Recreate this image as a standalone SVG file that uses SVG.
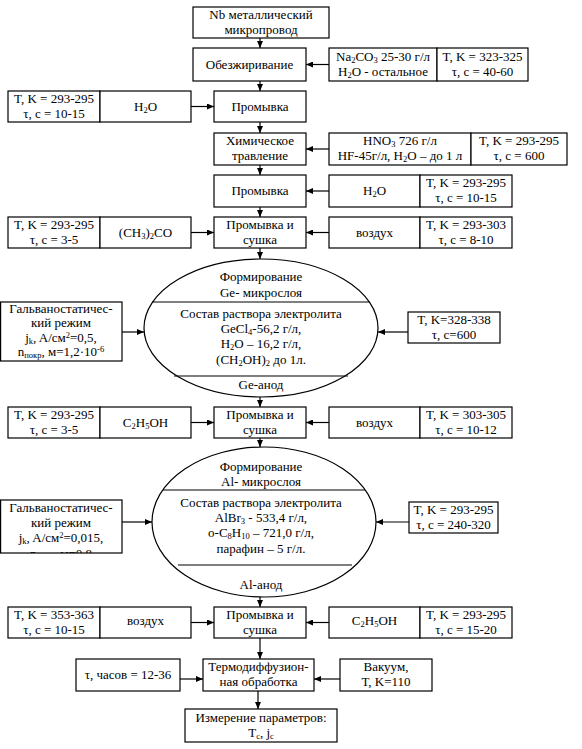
<svg xmlns="http://www.w3.org/2000/svg" width="582" height="749" viewBox="0 0 582 749">
<style>
.b{fill:#fff;stroke:#000;stroke-width:1.2}
.t{font-family:"Liberation Serif","Times New Roman",serif;font-size:13px;fill:#000;text-anchor:middle}
.s{font-size:8.5px}
.c{stroke:#000;stroke-width:1.2;fill:none;marker-end:url(#a)}
.l{stroke:#000;stroke-width:1.2}
</style>
<defs>
<marker id="a" markerWidth="7" markerHeight="6" refX="7" refY="3" orient="auto" markerUnits="userSpaceOnUse"><path d="M0,0 L7,3 L0,6 z" fill="#000"/></marker>
<clipPath id="g2clip"><rect x="0" y="500" width="122" height="53"/></clipPath>
</defs>
<rect width="582" height="749" fill="#fff"/>

<g id="connectors">
<line class="c" x1="260" y1="38" x2="260" y2="48"/>
<line class="c" x1="329" y1="64.5" x2="306" y2="64.5"/>
<line class="c" x1="260" y1="81" x2="260" y2="91"/>
<line class="c" x1="191" y1="106.5" x2="214" y2="106.5"/>
<line class="c" x1="260" y1="122" x2="260" y2="133"/>
<line class="c" x1="329" y1="149" x2="306" y2="149"/>
<line class="c" x1="260" y1="165" x2="260" y2="175"/>
<line class="c" x1="329" y1="191" x2="306" y2="191"/>
<line class="c" x1="260" y1="207" x2="260" y2="217"/>
<line class="c" x1="191" y1="232.5" x2="214" y2="232.5"/>
<line class="c" x1="329" y1="232.5" x2="306" y2="232.5"/>
<line class="c" x1="260" y1="248" x2="260" y2="259"/>
<line class="c" x1="122" y1="332" x2="144" y2="332"/>
<line class="c" x1="408" y1="332" x2="378" y2="332"/>
<line class="c" x1="260" y1="397" x2="260" y2="407"/>
<line class="c" x1="191" y1="422.5" x2="214" y2="422.5"/>
<line class="c" x1="329" y1="422.5" x2="306" y2="422.5"/>
<line class="c" x1="260" y1="438" x2="260" y2="447"/>
<line class="c" x1="122" y1="522" x2="152" y2="522"/>
<line class="c" x1="409" y1="522" x2="376" y2="522"/>
<line class="c" x1="260" y1="597" x2="260" y2="607"/>
<line class="c" x1="191" y1="622.5" x2="214" y2="622.5"/>
<line class="c" x1="329" y1="622.5" x2="306" y2="622.5"/>
<line class="c" x1="260" y1="638" x2="260" y2="659"/>
<line class="c" x1="180" y1="679" x2="203" y2="679"/>
<line class="c" x1="340" y1="679" x2="314" y2="679"/>
<line class="c" x1="258" y1="691" x2="258" y2="709"/>
</g>

<g id="nb">
<rect class="b" x="193" y="7" width="136" height="31"/>
<text class="t" x="261" y="19">Nb металлический</text>
<text class="t" x="261" y="34">микропровод</text>
</g>

<g id="obez">
<rect class="b" x="193" y="48" width="113" height="33"/>
<text class="t" x="249.5" y="69">Обезжиривание</text>
</g>

<g id="obez-sol">
<rect class="b" x="329" y="48" width="108" height="33"/>
<rect class="b" x="437" y="48" width="91" height="33"/>
<text class="t" x="383" y="61">Na<tspan class="s" dy="2">2</tspan><tspan dy="-2">CO</tspan><tspan class="s" dy="2">3</tspan><tspan dy="-2"> 25-30 г/л</tspan></text>
<text class="t" x="383" y="76">H<tspan class="s" dy="2">2</tspan><tspan dy="-2">O - остальное</tspan></text>
<text class="t" x="482.5" y="61">T, K = 323-325</text>
<text class="t" x="482.5" y="76">τ, с = 40-60</text>
</g>

<g id="prom1">
<rect class="b" x="214" y="91" width="92" height="31"/>
<text class="t" x="260" y="111">Промывка</text>
</g>

<g id="prom1-cond">
<rect class="b" x="8" y="91" width="92" height="31"/>
<rect class="b" x="100" y="91" width="91" height="31"/>
<text class="t" x="54" y="103">T, K = 293-295</text>
<text class="t" x="54" y="118">τ, с = 10-15</text>
<text class="t" x="145.5" y="111">H<tspan class="s" dy="2">2</tspan><tspan dy="-2">O</tspan></text>
</g>

<g id="trav">
<rect class="b" x="214" y="133" width="92" height="32"/>
<text class="t" x="260" y="145">Химическое</text>
<text class="t" x="260" y="160">травление</text>
</g>

<g id="trav-sol">
<rect class="b" x="329" y="133" width="142" height="32"/>
<rect class="b" x="471" y="133" width="96" height="32"/>
<text class="t" x="400" y="145">HNO<tspan class="s" dy="2">3</tspan><tspan dy="-2"> 726 г/л</tspan></text>
<text class="t" x="400" y="160">HF-45г/л, H<tspan class="s" dy="2">2</tspan><tspan dy="-2">O – до 1 л</tspan></text>
<text class="t" x="519" y="145">T, K = 293-295</text>
<text class="t" x="519" y="160">τ, с = 600</text>
</g>

<g id="prom2">
<rect class="b" x="214" y="175" width="92" height="32"/>
<text class="t" x="260" y="195">Промывка</text>
</g>

<g id="prom2-cond">
<rect class="b" x="329" y="175" width="91" height="32"/>
<rect class="b" x="420" y="175" width="92" height="32"/>
<text class="t" x="374.5" y="195">H<tspan class="s" dy="2">2</tspan><tspan dy="-2">O</tspan></text>
<text class="t" x="466" y="187">T, K = 293-295</text>
<text class="t" x="466" y="202">τ, с = 10-15</text>
</g>

<g id="sush1">
<rect class="b" x="214" y="217" width="92" height="31"/>
<text class="t" x="260" y="229">Промывка и</text>
<text class="t" x="260" y="244">сушка</text>
</g>

<g id="sush1-left">
<rect class="b" x="8" y="217" width="92" height="31"/>
<rect class="b" x="100" y="217" width="91" height="31"/>
<text class="t" x="54" y="229">T, K = 293-295</text>
<text class="t" x="54" y="244">τ, с = 3-5</text>
<text class="t" x="145.5" y="237">(CH<tspan class="s" dy="2">3</tspan><tspan dy="-2">)</tspan><tspan class="s" dy="2">2</tspan><tspan dy="-2">CO</tspan></text>
</g>

<g id="sush1-right">
<rect class="b" x="329" y="217" width="91" height="31"/>
<rect class="b" x="420" y="217" width="92" height="31"/>
<text class="t" x="374.5" y="237">воздух</text>
<text class="t" x="466" y="229">T, K = 293-303</text>
<text class="t" x="466" y="244">τ, с = 8-10</text>
</g>

<g id="ge">
<ellipse class="b" cx="261" cy="328" rx="117" ry="69"/>
<line class="l" x1="152" y1="302" x2="370" y2="302"/>
<line class="l" x1="174" y1="376" x2="348" y2="376"/>
<text class="t" x="261" y="281">Формирование</text>
<text class="t" x="261" y="297">Ge- микрослоя</text>
<text class="t" x="261" y="318">Состав раствора электролита</text>
<text class="t" x="261" y="333">GeCl<tspan class="s" dy="2">4</tspan><tspan dy="-2">-56,2 г/л,</tspan></text>
<text class="t" x="261" y="348">H<tspan class="s" dy="2">2</tspan><tspan dy="-2">O – 16,2 г/л,</tspan></text>
<text class="t" x="261" y="364">(CH<tspan class="s" dy="2">2</tspan><tspan dy="-2">OH)</tspan><tspan class="s" dy="2">2</tspan><tspan dy="-2"> до 1л.</tspan></text>
<text class="t" x="261" y="389">Ge-анод</text>
</g>

<g id="ge-galv">
<rect class="b" x="0.6" y="302" width="121.4" height="59"/>
<text class="t" x="61" y="313">Гальваностатичес-</text>
<text class="t" x="61" y="327">кий режим</text>
<text class="t" x="61" y="342">j<tspan class="s" dy="2">k</tspan><tspan dy="-2">, A/см</tspan><tspan class="s" dy="-4">2</tspan><tspan dy="4">=0,5,</tspan></text>
<text class="t" x="61" y="356">n<tspan class="s" dy="2">покр</tspan><tspan dy="-2">, м=1,2·10</tspan><tspan class="s" dy="-4">-6</tspan></text>
</g>

<g id="ge-temp">
<rect class="b" x="408" y="312" width="92" height="31"/>
<text class="t" x="454" y="324">T, K=328-338</text>
<text class="t" x="454" y="339">τ, с=600</text>
</g>

<g id="sush2">
<rect class="b" x="214" y="407" width="92" height="31"/>
<text class="t" x="260" y="419">Промывка и</text>
<text class="t" x="260" y="434">сушка</text>
</g>

<g id="sush2-left">
<rect class="b" x="8" y="407" width="92" height="31"/>
<rect class="b" x="100" y="407" width="91" height="31"/>
<text class="t" x="54" y="419">T, K = 293-295</text>
<text class="t" x="54" y="434">τ, с = 3-5</text>
<text class="t" x="145.5" y="427">C<tspan class="s" dy="2">2</tspan><tspan dy="-2">H</tspan><tspan class="s" dy="2">5</tspan><tspan dy="-2">OH</tspan></text>
</g>

<g id="sush2-right">
<rect class="b" x="329" y="407" width="91" height="31"/>
<rect class="b" x="420" y="407" width="92" height="31"/>
<text class="t" x="374.5" y="427">воздух</text>
<text class="t" x="466" y="419">T, K = 303-305</text>
<text class="t" x="466" y="434">τ, с = 10-12</text>
</g>

<g id="al">
<ellipse class="b" cx="264" cy="522" rx="112" ry="75"/>
<line class="l" x1="163" y1="490" x2="365" y2="490"/>
<line class="l" x1="178" y1="565" x2="352" y2="565"/>
<text class="t" x="261" y="471">Формирование</text>
<text class="t" x="261" y="486">Al- микрослоя</text>
<text class="t" x="261" y="507">Состав раствора электролита</text>
<text class="t" x="261" y="522">AlBr<tspan class="s" dy="2">3</tspan><tspan dy="-2"> - 533,4 г/л,</tspan></text>
<text class="t" x="261" y="537">o-C<tspan class="s" dy="2">8</tspan><tspan dy="-2">H</tspan><tspan class="s" dy="2">10</tspan><tspan dy="-2"> – 721,0 г/л,</tspan></text>
<text class="t" x="261" y="553">парафин – 5 г/л.</text>
<text class="t" x="261" y="589">Al-анод</text>
</g>

<g id="al-galv">
<rect class="b" x="0.6" y="500" width="121.4" height="53"/>
<g clip-path="url(#g2clip)">
<text class="t" x="61" y="512">Гальваностатичес-</text>
<text class="t" x="61" y="527">кий режим</text>
<text class="t" x="61" y="542">j<tspan class="s" dy="2">k</tspan><tspan dy="-2">, A/см</tspan><tspan class="s" dy="-4">2</tspan><tspan dy="4">=0,015,</tspan></text>
<text class="t" x="61" y="558">n<tspan class="s" dy="2">покр</tspan><tspan dy="-2">, м=0,8</tspan></text>
</g>
</g>

<g id="al-temp">
<rect class="b" x="409" y="502" width="89" height="31"/>
<text class="t" x="453.5" y="514">T, K = 293-295</text>
<text class="t" x="453.5" y="529">τ, с = 240-320</text>
</g>

<g id="sush3">
<rect class="b" x="214" y="607" width="92" height="31"/>
<text class="t" x="260" y="619">Промывка и</text>
<text class="t" x="260" y="634">сушка</text>
</g>

<g id="sush3-left">
<rect class="b" x="8" y="607" width="92" height="31"/>
<rect class="b" x="100" y="607" width="91" height="31"/>
<text class="t" x="54" y="619">T, K = 353-363</text>
<text class="t" x="54" y="634">τ, с = 10-15</text>
<text class="t" x="145.5" y="625">воздух</text>
</g>

<g id="sush3-right">
<rect class="b" x="329" y="607" width="91" height="31"/>
<rect class="b" x="420" y="607" width="92" height="31"/>
<text class="t" x="374.5" y="625">C<tspan class="s" dy="2">2</tspan><tspan dy="-2">H</tspan><tspan class="s" dy="2">5</tspan><tspan dy="-2">OH</tspan></text>
<text class="t" x="466" y="619">T, K = 293-295</text>
<text class="t" x="466" y="634">τ, с = 15-20</text>
</g>

<g id="termo">
<rect class="b" x="203" y="659" width="111" height="32"/>
<text class="t" x="258.5" y="671">Термодиффузион-</text>
<text class="t" x="258.5" y="686">ная обработка</text>
</g>

<g id="termo-time">
<rect class="b" x="76" y="659" width="104" height="32"/>
<text class="t" x="128" y="679">τ, часов = 12-36</text>
</g>

<g id="termo-vac">
<rect class="b" x="340" y="659" width="92" height="32"/>
<text class="t" x="386" y="671">Вакуум,</text>
<text class="t" x="386" y="686">T, K=110</text>
</g>

<g id="measure">
<rect class="b" x="185" y="709" width="152" height="33"/>
<text class="t" x="261" y="722">Измерение параметров:</text>
<text class="t" x="261" y="737">T<tspan class="s" dy="2">c</tspan><tspan dy="-2">, j</tspan><tspan class="s" dy="2">c</tspan></text>
</g>
</svg>
